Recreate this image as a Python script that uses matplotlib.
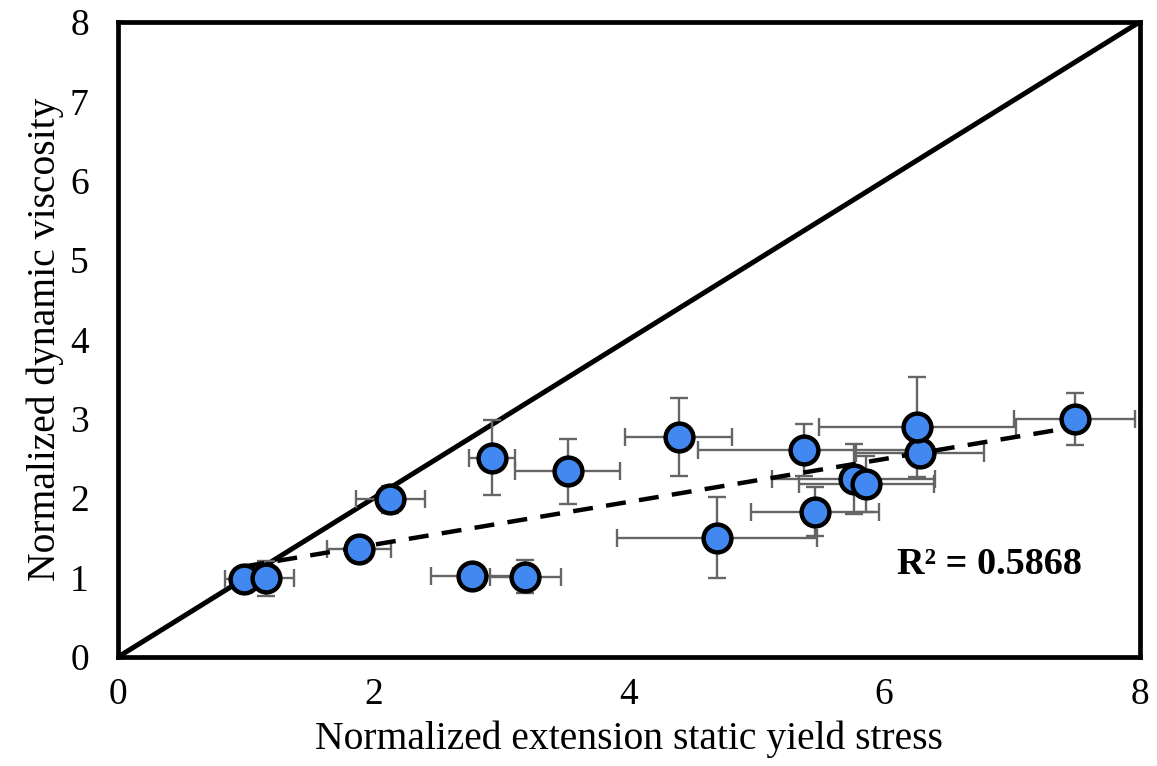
import matplotlib
matplotlib.use("Agg")
import matplotlib.pyplot as plt
import numpy as np

# normalized extension static yield stress (x) vs normalized dynamic viscosity (y)
x_vals = [0.99, 1.16, 1.89, 2.13, 2.93, 3.52, 2.77, 3.19, 4.39,
          4.69, 5.37, 5.76, 5.86, 6.28, 5.46, 6.26, 7.49]
y_vals = [0.98, 0.99, 1.36, 1.99, 2.51, 2.34, 1.02, 1.01, 2.77,
          1.50, 2.61, 2.24, 2.18, 2.57, 1.83, 2.90, 3.00]
x_err = [0.15, 0.22, 0.25, 0.27, 0.18, 0.41, 0.32, 0.28, 0.42,
         0.78, 0.83, 0.64, 0.53, 0.50, 0.50, 0.77, 0.47]
y_err = [0.06, 0.22, 0.05, 0.17, 0.47, 0.41, 0.03, 0.21, 0.49,
         0.51, 0.33, 0.44, 0.35, 0.16, 0.31, 0.63, 0.33]
r2_label = "R² = 0.5868"
ticks = [0, 2, 4, 6, 8]
yticks = [0, 1, 2, 3, 4, 5, 6, 7, 8]

plt.rcParams["font.family"] = ["Liberation Serif", "DejaVu Serif"]

fig = plt.figure(figsize=(11.57, 7.66), dpi=100)
ax = fig.add_axes([0.102, 0.1423, 0.883, 0.829])

x = np.array(x_vals)
y = np.array(y_vals)

# 1:1 line
ax.plot([0, 8], [0, 8], color="black", lw=3.6, zorder=2)

# error bars
ax.errorbar(x, y, xerr=x_err, yerr=y_err, fmt="none", ecolor="#656565",
            elinewidth=1.7, capsize=6.5, capthick=1.7, zorder=3)

# linear trend line
k, b = np.polyfit(x, y, 1)
xs = np.array([x.min(), x.max()])
ax.plot(xs, k * xs + b, color="black", lw=3.2, dashes=(4.5, 3), zorder=4)

ax.plot(x, y, "o", ms=20, mfc="#4189F0", mec="black", mew=3.2, zorder=5)

ax.text(6.10, 1.05, r2_label, fontsize=27.5, fontweight="bold",
        ha="left", va="baseline")

ax.set_xlim(0, 8)
ax.set_ylim(0, 8)
ax.set_xticks(ticks)
ax.set_yticks(yticks)
ax.tick_params(axis="both", length=0, labelsize=27)
ax.tick_params(axis="x", pad=15)
ax.tick_params(axis="y", pad=21)
for s in ax.spines.values():
    s.set_linewidth(3.4)
    s.set_color("black")

ax.set_xlabel("Normalized extension static yield stress", fontsize=28.5, labelpad=6)
ax.set_ylabel("Normalized dynamic viscosity", fontsize=28.5, labelpad=4)

fig.savefig("out.png", dpi=100)
